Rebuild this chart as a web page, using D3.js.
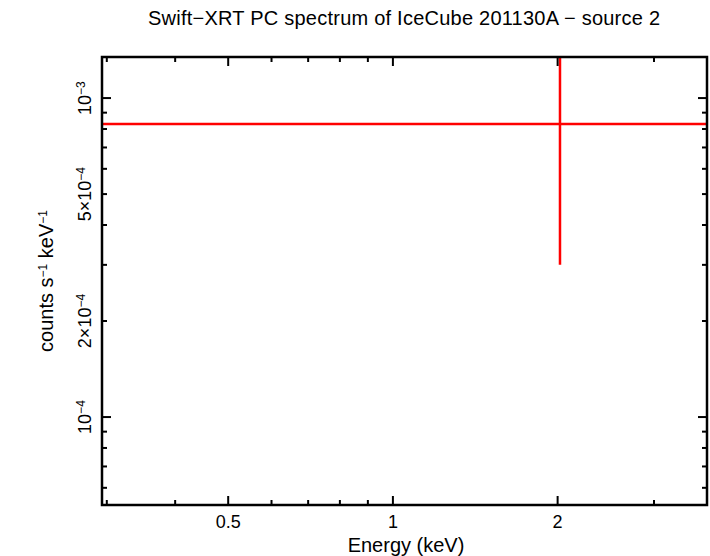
<!DOCTYPE html>
<html><head><meta charset="utf-8">
<script src="https://cdn.jsdelivr.net/npm/d3@7"></script>
<style>body{margin:0;background:#fff}text{font-family:"Liberation Sans",Arial,sans-serif}</style>
</head><body><svg id="c" width="710" height="556"></svg>
<script>
const title = "Swift\u2212XRT PC spectrum of IceCube 201130A \u2212 source 2";
const xDomain = [0.294, 3.75];
const yDomain = [5.3e-5, 1.345e-3];
const energy = [2.02];
const energyLo = [0.2];
const energyHi = [5.0];
const rate = [8.29e-4];
const rateLo = [3.0e-4];
const rateHi = [2e-3];
const xMajor = [0.5, 1, 2];
const xMajorLabels = ["0.5", "1", "2"];
const xMinor = [0.3, 0.4, 0.6, 0.7, 0.8, 0.9, 3];
const yMajor = [1e-4, 1e-3];
const yLabelVals = [1e-4, 2e-4, 5e-4, 1e-3];
const yMinor = [6e-5, 7e-5, 8e-5, 9e-5, 2e-4, 3e-4, 4e-4, 5e-4, 6e-4, 7e-4, 8e-4, 9e-4];

const L=102,R=707,T=57,B=505;
const svg=d3.select("#c");
const x=d3.scaleLog().domain(xDomain).range([L,R]);
const y=d3.scaleLog().domain(yDomain).range([B,T]);
svg.append("defs").append("clipPath").attr("id","cp").append("rect").attr("x",L).attr("y",T).attr("width",R-L).attr("height",B-T);
const g=svg.append("g").attr("clip-path","url(#cp)");
energy.forEach((e,i)=>{
  g.append("line").attr("x1",x(energyLo[i])).attr("x2",x(energyHi[i])).attr("y1",y(rate[i])).attr("y2",y(rate[i])).attr("stroke","#f00").attr("stroke-width",2.5);
  g.append("line").attr("x1",x(e)).attr("x2",x(e)).attr("y1",y(rateLo[i])).attr("y2",y(rateHi[i])).attr("stroke","#f00").attr("stroke-width",2.5);
});
const ax=svg.append("g").attr("stroke","#000").attr("stroke-width",2);
const tick=(v,len,isX)=>{
  if(isX){const p=x(v);ax.append("line").attr("x1",p).attr("x2",p).attr("y1",B).attr("y2",B-len);ax.append("line").attr("x1",p).attr("x2",p).attr("y1",T).attr("y2",T+len);}
  else{const p=y(v);ax.append("line").attr("y1",p).attr("y2",p).attr("x1",L).attr("x2",L+len);ax.append("line").attr("y1",p).attr("y2",p).attr("x1",R).attr("x2",R-len);}
};
xMajor.forEach(v=>tick(v,9,true));xMinor.forEach(v=>tick(v,5,true));
yMajor.forEach(v=>tick(v,9,false));yMinor.forEach(v=>tick(v,5,false));
svg.append("rect").attr("x",L).attr("y",T).attr("width",R-L).attr("height",B-T).attr("fill","none").attr("stroke","#000").attr("stroke-width",2.5);
xMajor.forEach((v,i)=>svg.append("text").attr("x",x(v)).attr("y",528).attr("text-anchor","middle").attr("font-size",18).text(xMajorLabels[i]));
const sup=v=>{const e=Math.floor(Math.log10(v)+1e-9),m=Math.round(v/Math.pow(10,e));return {m,e};};
yLabelVals.forEach(v=>{
  const {m,e}=sup(v);
  const t=svg.append("text").attr("transform",`translate(91,${y(v)}) rotate(-90)`).attr("text-anchor","middle").attr("font-size",18);
  if(m!==1) t.append("tspan").text(m+"\u00d7");
  t.append("tspan").text("10");
  t.append("tspan").attr("dy",-6).attr("font-size",12).text("\u2212"+Math.abs(e));
});
svg.append("text").attr("x",404).attr("y",25).attr("text-anchor","middle").attr("font-size",20).attr("textLength",512).text(title);
svg.append("text").attr("x",406).attr("y",552).attr("text-anchor","middle").attr("font-size",20).text("Energy (keV)");
const yl=svg.append("text").attr("transform","translate(53,281) rotate(-90)").attr("text-anchor","middle").attr("font-size",20);
yl.append("tspan").text("counts s");yl.append("tspan").attr("dy",-6).attr("font-size",12).text("\u22121");
yl.append("tspan").attr("dy",6).text(" keV");yl.append("tspan").attr("dy",-6).attr("font-size",12).text("\u22121");
</script></body></html>
